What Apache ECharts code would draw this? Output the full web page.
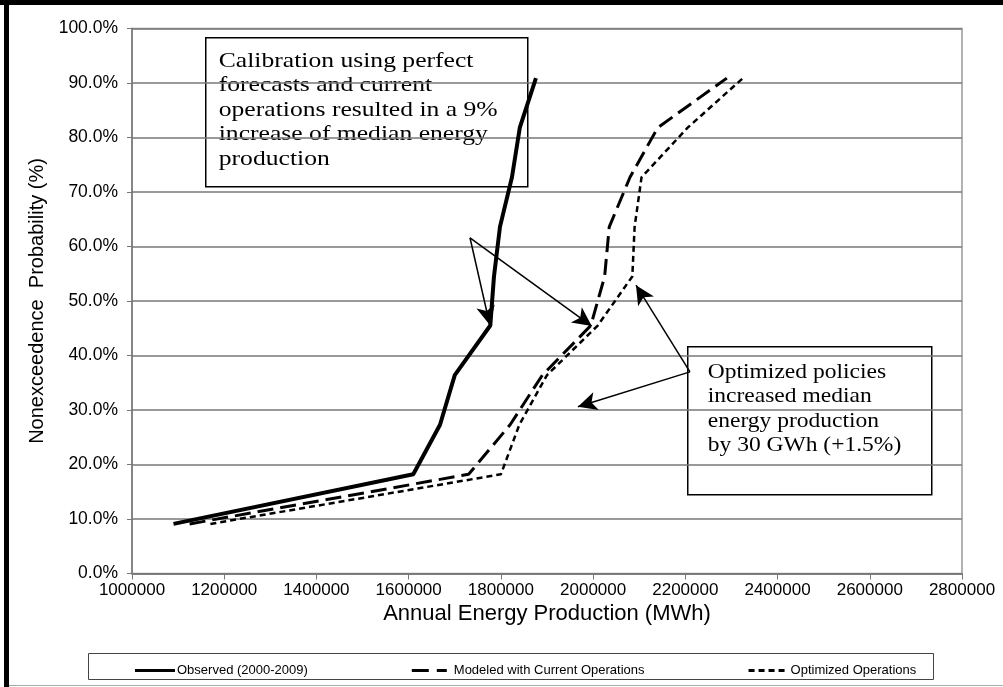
<!DOCTYPE html>
<html>
<head>
<meta charset="utf-8">
<script src="https://cdn.jsdelivr.net/npm/echarts@6/dist/echarts.min.js"></script>
<style>
  html, body { margin: 0; padding: 0; background: #fff; }
  #chart { width: 1003px; height: 687px; }
</style>
</head>
<body>
<div id="chart"></div>
<script>
// nonexceedence probabilities (%) for the 10 years, 2000-2009
const probs = [9.1, 18.2, 27.3, 36.4, 45.5, 54.5, 63.6, 72.7, 81.8, 90.9];
// annual energy production (MWh) at each probability
const observed = [1090000, 1610000, 1668000, 1700000, 1777000, 1785000, 1798000, 1824000, 1841000, 1876000];
const modeled = [1125000, 1730000, 1820000, 1890000, 1995000, 2025000, 2035000, 2080000, 2140000, 2290000];
const optimized = [1170000, 1800000, 1840000, 1900000, 2010000, 2085000, 2090000, 2105000, 2205000, 2325000];

// arrows [start, tip] in data units (MWh, %)
const calibArrows = [
  [[1733000, 61.6], [1776000, 45.6]],
  [[1733000, 61.6], [1997000, 45.4]]
];
const policyArrows = [
  [[2210000, 37.0], [2093000, 52.9]],
  [[2210000, 37.0], [1967000, 30.6]]
];

const calibText = 'Calibration using perfect\nforecasts and current\noperations resulted in a 9%\nincrease of median energy\nproduction';
const policyText = 'Optimized policies\nincreased median\nenergy production\nby 30 GWh (+1.5%)';

const toPairs = (xs) => xs.map((x, i) => [x, probs[i]]);

const arrowData = calibArrows.concat(policyArrows).map((a) => [
  { coord: a[0] },
  { coord: a[1] }
]);

const sansFont = '"Liberation Sans", Arial, sans-serif';
const serifFont = '"Liberation Serif", "Times New Roman", serif';

// legend icons drawn as little bars (40 x 3)
const iconSolid = 'path://M0,0h40v3h-40z';
const iconLongDash = 'path://M0,0h17v3h-17zM25,0h10v3h-10zM40,0h0v3h0z';
const iconShortDash = 'path://M0,0h6v3h-6zM10,0h6v3h-6zM20,0h6v3h-6zM30,0h6v3h-6zM40,0h0v3h0z';

const chart = echarts.init(document.getElementById('chart'));

const option = {
  backgroundColor: '#fff',
  animation: false,
  grid: { left: 132, right: 41, top: 28.5, bottom: 113.5 },
  legend: {
    left: 130,
    top: 659,
    itemWidth: 40,
    itemHeight: 3.5,
    itemGap: 104,
    textStyle: { fontFamily: sansFont, fontSize: 13, color: '#000', padding: [0, 0, 0, -3] },
    data: [
      { name: 'Observed (2000-2009)', icon: iconSolid },
      { name: 'Modeled with Current Operations', icon: iconLongDash },
      { name: 'Optimized Operations', icon: iconShortDash }
    ]
  },
  xAxis: {
    type: 'value',
    min: 1000000,
    max: 2800000,
    interval: 200000,
    name: 'Annual Energy Production (MWh)',
    nameLocation: 'middle',
    nameGap: 18,
    nameTextStyle: { fontFamily: sansFont, fontSize: 22, color: '#000' },
    axisLine: { show: true, lineStyle: { color: '#777', width: 1.5 } },
    axisTick: { show: true, length: 6, lineStyle: { color: '#777' } },
    axisLabel: { fontFamily: sansFont, fontSize: 17, color: '#000', margin: 8, formatter: (v) => String(v) },
    splitLine: { show: false }
  },
  yAxis: {
    type: 'value',
    min: 0,
    max: 100,
    interval: 10,
    name: 'Nonexceedence  Probability (%)',
    nameLocation: 'middle',
    nameGap: 78,
    nameTextStyle: { fontFamily: sansFont, fontSize: 20, color: '#000' },
    axisLine: { show: true, lineStyle: { color: '#777', width: 1.5 } },
    axisTick: { show: true, length: 5, lineStyle: { color: '#777' } },
    axisLabel: { fontFamily: sansFont, fontSize: 17.5, color: '#000', margin: 14, formatter: (v) => v.toFixed(1) + '%' },
    splitLine: { show: true, lineStyle: { color: '#777', width: 1.5 } }
  },
  series: [
    {
      name: 'Observed (2000-2009)',
      type: 'line',
      data: toPairs(observed),
      showSymbol: false,
      symbol: 'none',
      lineStyle: { color: '#000', width: 4 },
      itemStyle: { color: '#000' },
      z: 5,
      markLine: {
        silent: true,
        symbol: ['none', 'arrow'],
        symbolSize: [14, 19],
        label: { show: false },
        lineStyle: { color: '#000', width: 1.5, type: 'solid' },
        data: arrowData
      }
    },
    {
      name: 'Modeled with Current Operations',
      type: 'line',
      data: toPairs(modeled),
      showSymbol: false,
      symbol: 'none',
      lineStyle: { color: '#000', width: 3, type: [16, 7] },
      itemStyle: { color: '#000' }
    },
    {
      name: 'Optimized Operations',
      type: 'line',
      data: toPairs(optimized),
      showSymbol: false,
      symbol: 'none',
      lineStyle: { color: '#000', width: 2.5, type: [6, 4] },
      itemStyle: { color: '#000' }
    }
  ],
  graphic: [
    // plot area border (top/right)
    { type: 'rect', silent: true, shape: { x: 132, y: 28.5, width: 830, height: 545 }, style: { fill: 'none', stroke: '#999', lineWidth: 1.5 }, z: -1 },
    // outer frame
    { type: 'rect', silent: true, shape: { x: 0, y: 0, width: 1003, height: 5 }, style: { fill: '#000' } },
    { type: 'rect', silent: true, shape: { x: 4, y: 0, width: 5, height: 687 }, style: { fill: '#000' } },
    { type: 'rect', silent: true, shape: { x: 9, y: 685, width: 994, height: 1 }, style: { fill: '#aaa' } },
    // legend box
    { type: 'rect', silent: true, shape: { x: 88.5, y: 653.5, width: 845, height: 26 }, style: { fill: 'none', stroke: '#444', lineWidth: 1 } },
    // annotation boxes
    {
      type: 'group', left: 205, top: 37, z: 10,
      children: [
        { type: 'rect', shape: { x: 0, y: 0, width: 322, height: 149 }, style: { fill: '#fff', stroke: '#000', lineWidth: 1.5 } },
        { type: 'text', x: 13, y: 11, scaleX: 1.22, style: { text: calibText, font: '21px ' + serifFont, lineHeight: 24.6, fill: '#000' } }
      ]
    },
    {
      type: 'group', left: 687, top: 346, z: 10,
      children: [
        { type: 'rect', shape: { x: 0, y: 0, width: 244, height: 148 }, style: { fill: '#fff', stroke: '#000', lineWidth: 1.5 } },
        { type: 'text', x: 20, y: 13, scaleX: 1.12, style: { text: policyText, font: '21px ' + serifFont, lineHeight: 24.6, fill: '#000' } }
      ]
    }
  ]
};

chart.setOption(option);
</script>
</body>
</html>
